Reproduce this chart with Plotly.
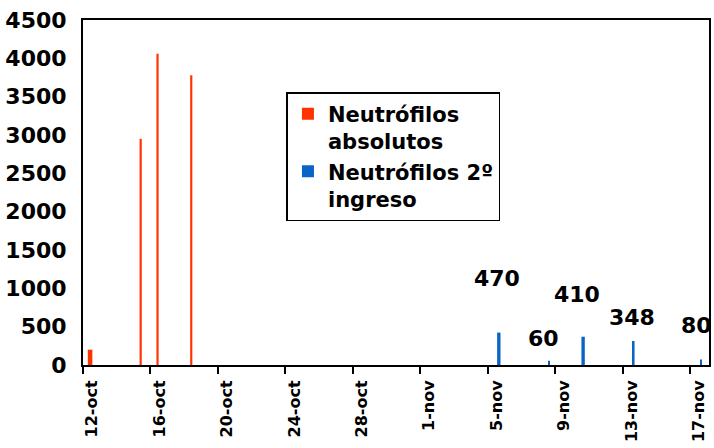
import plotly.graph_objects as go
import pandas as pd

# ---- data ----
red_dates = ["2009-10-12", "2009-10-15", "2009-10-16", "2009-10-18"]
red_values = [200, 2950, 4060, 3780]
blue_dates = ["2009-11-05", "2009-11-08", "2009-11-10", "2009-11-13", "2009-11-17"]
blue_values = [470, 60, 410, 348, 80]
blue_labels = ["470", "60", "410", "348", "80"]
tick_dates = ["2009-10-12", "2009-10-16", "2009-10-20", "2009-10-24", "2009-10-28",
              "2009-11-01", "2009-11-05", "2009-11-09", "2009-11-13", "2009-11-17"]
tick_labels = ["12-oct", "16-oct", "20-oct", "24-oct", "28-oct",
               "1-nov", "5-nov", "9-nov", "13-nov", "17-nov"]
series_names = ["Neutrófilos<br>absolutos", "Neutrófilos 2º<br>ingreso"]

# ---- styling ----
DAY = 86400000
FONT = "DejaVu Sans"
RED = "#FF3300"
BLUE = "#0A64C8"

red_w = [0.27, 0.13, 0.13, 0.13]
red_center = 0.42
blue_w = [0.2, 0.07, 0.2, 0.1, 0.07]
blue_center = 0.66

fig = go.Figure()
fig.add_trace(go.Bar(
    x=red_dates, y=red_values, name=series_names[0],
    marker=dict(color=RED, line=dict(width=0)),
    width=[w * DAY for w in red_w],
    offset=[(red_center - w / 2) * DAY for w in red_w],
    yaxis="y",
))
fig.add_trace(go.Bar(
    x=blue_dates, y=blue_values, name=series_names[1],
    marker=dict(color=BLUE, line=dict(width=0)),
    width=[w * DAY for w in blue_w],
    offset=[(blue_center - w / 2) * DAY for w in blue_w],
    yaxis="y2",
))

label_dx = [9, 5, 5, 9, 6]
label_dy = [54, 22, 42, 23, 34]
for d, v, t, dx, dy in zip(blue_dates, blue_values, blue_labels, label_dx, label_dy):
    fig.add_annotation(
        x=d, y=v, xref="x", yref="y2", text=t, showarrow=False,
        xanchor="center", yanchor="middle", xshift=dx, yshift=dy,
        font=dict(family=FONT, size=22, color="black", weight="bold"),
    )

fig.update_layout(
    width=714, height=448,
    margin=dict(l=83, r=3, t=20, b=83),
    paper_bgcolor="white", plot_bgcolor="white",
    barmode="overlay",
    showlegend=True,
    legend=dict(
        x=0.325, y=0.791, xanchor="left", yanchor="top",
        bgcolor="white", bordercolor="black", borderwidth=1.5,
        font=dict(family=FONT, size=21, color="black", weight="bold"),
        valign="top", itemwidth=30, tracegroupgap=6,
    ),
    xaxis=dict(
        type="date",
        range=["2009-10-12", "2009-11-18 03:00"],
        tickvals=tick_dates, ticktext=tick_labels,
        tickangle=-90,
        ticks="outside", ticklen=7, tickwidth=2, tickcolor="black",
        ticklabelshift=9,
        showline=True, linecolor="black", linewidth=2, mirror=True,
        showgrid=False, zeroline=False,
        tickfont=dict(family=FONT, size=16, color="black", weight="bold"),
    ),
    yaxis=dict(
        range=[0, 4500], dtick=500,
        showline=True, linecolor="black", linewidth=2, mirror=True,
        showgrid=False, zeroline=False, ticks="",
        ticklabelstandoff=10,
        tickfont=dict(family=FONT, size=22, color="black", weight="bold"),
    ),
    yaxis2=dict(
        range=[0, 5000], overlaying="y", side="right",
        showline=False, showgrid=False, zeroline=False,
        showticklabels=False, ticks="",
    ),
)

fig.write_html("out.html")
